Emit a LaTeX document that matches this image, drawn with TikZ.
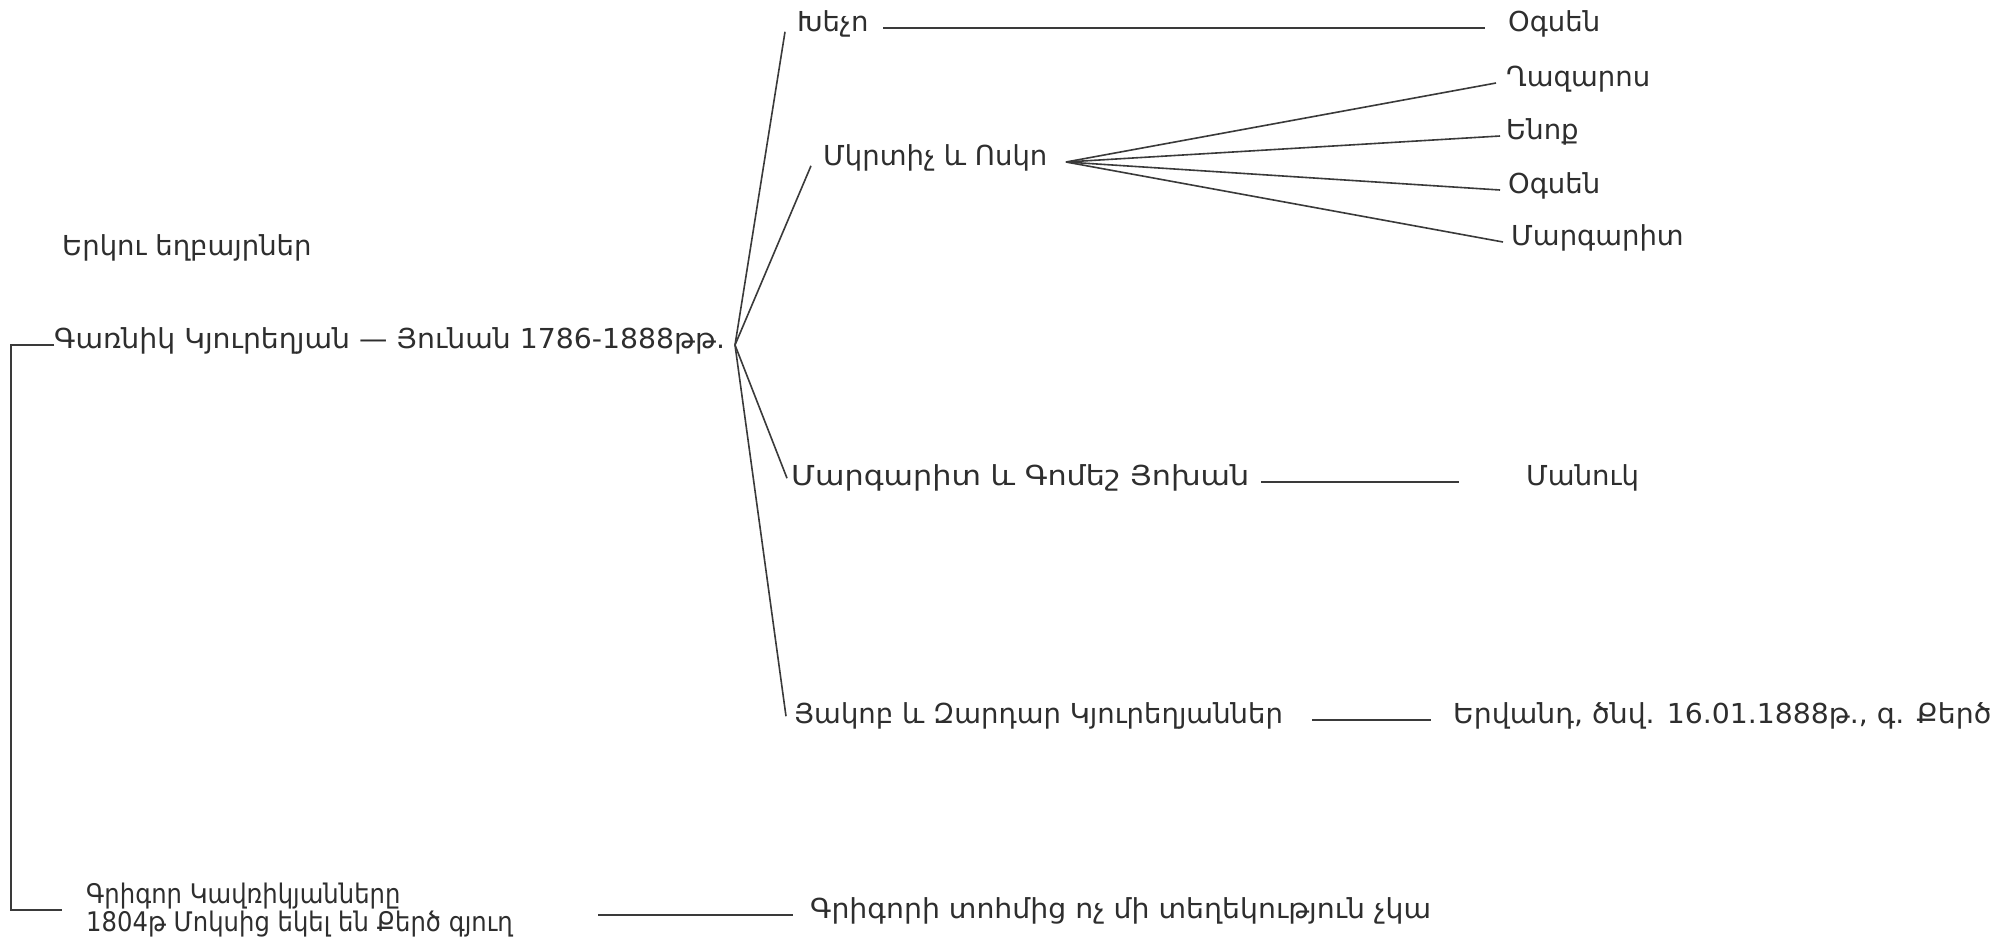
\documentclass[tikz,border=0pt]{standalone}
\usepackage{fontspec}
\setmainfont{DejaVu Sans}
\newfontfamily\fsnarrow[FakeStretch=0.9]{DejaVu Sans}
\newfontfamily\fswide[FakeStretch=1.1]{DejaVu Sans}
\newfontfamily\fsmid[FakeStretch=1.03]{DejaVu Sans}
\definecolor{ink}{HTML}{2E2E2E}
\definecolor{wire}{HTML}{3A3A3A}
\begin{document}
\begin{tikzpicture}[x=1pt,y=-1pt,
  lbl/.style={anchor=west,inner sep=0pt,text height=0.72em,text depth=0pt,
              font=\fontsize{27.5}{25}\selectfont,text=ink},
  lbltwo/.style={anchor=west,inner sep=0pt,align=left,
              font=\fsnarrow\fontsize{27}{24}\selectfont,text=ink},
  wire/.style={draw=wire,line width=1.6pt}]
\useasboundingbox[fill=white] (0,0) rectangle (2008,938);
% nodes
\node[lbl] (bro) at (62,252) {Երկու եղբայրներ};
\node[lbl,font=\fsmid\fontsize{27.5}{25}\selectfont] (root) at (54,345) {Գառնիկ Կյուրեղյան — Յունան 1786-1888թթ.};
\coordinate (fan) at (735,345);
\coordinate (brk) at (11,345);
\node[lbl] (kh) at (797,28) {Խեչո};
\node[lbl] (og1) at (1508,28) {Օգսեն};
\node[lbl] (mk) at (823,162) {Մկրտիչ և Ոսկո};
\coordinate (mkf) at (1066,162);
\node[lbl] (laz) at (1506,83) {Ղազարոս};
\node[lbl] (en) at (1506,136) {Ենոք};
\node[lbl] (og2) at (1508,190) {Օգսեն};
\node[lbl] (mar) at (1511,242) {Մարգարիտ};
\node[lbl,font=\fswide\fontsize{27.5}{25}\selectfont] (mg) at (791,482) {Մարգարիտ և Գոմեշ Յոխան};
\node[lbl] (man) at (1526,482) {Մանուկ};
\node[lbl] (hk) at (794,720) {Յակոբ և Զարդար Կյուրեղյաններ};
\node[lbl,font=\fsmid\fontsize{27.5}{25}\selectfont] (erv) at (1453,720) {Երվանդ, ծնվ. 16.01.1888թ., գ. Քերծ};
\node[lbltwo] (gr) at (86,910) {Գրիգոր Կավռիկյանները\\1804թ Մոկսից եկել են Քերծ գյուղ};
\node[lbl,font=\fsmid\fontsize{27.5}{25}\selectfont] (gri) at (810,915) {Գրիգորի տոհմից ոչ մի տեղեկություն չկա};
% connectors
\draw[wire] (root.west) -- (brk) |- ([xshift=-24]gr.west);
\draw[wire] (fan) -- ([xshift=-12]kh.south west);
\draw[wire] (fan) -- ([xshift=-12]mk.south west);
\draw[wire] (fan) -- ([xshift=-4]mg.north west);
\draw[wire] (fan) -- ([xshift=-8]hk.north west);
\draw[wire] ([xshift=-625]og1.west) -- ([xshift=-23]og1.west);
\draw[wire] (mkf) -- ([xshift=-10]laz.west);
\draw[wire] (mkf) -- ([xshift=-6]en.west);
\draw[wire] (mkf) -- ([xshift=-8]og2.west);
\draw[wire] (mkf) -- ([xshift=-8]mar.west);
\draw[wire] ([xshift=-265]man.west) -- ([xshift=-67]man.west);
\draw[wire] ([xshift=-141]erv.west) -- ([xshift=-22]erv.west);
\path ([xshift=-212]gri.west) coordinate (g1);
\draw[wire] (g1) -- ([xshift=-17]gri.west);
\end{tikzpicture}
\end{document}
